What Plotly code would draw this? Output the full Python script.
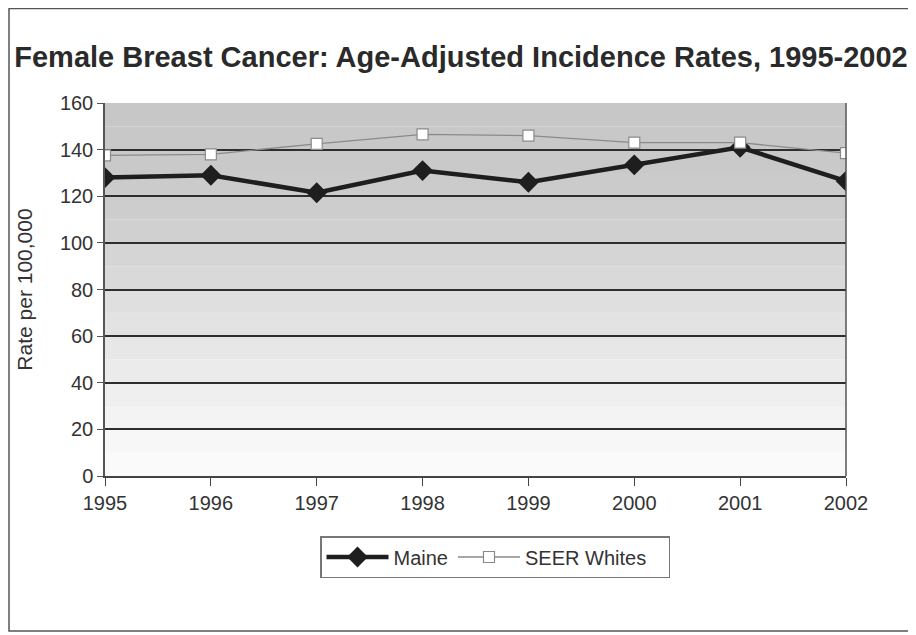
import plotly.graph_objects as go

years = [1995, 1996, 1997, 1998, 1999, 2000, 2001, 2002]
maine = [128, 129, 121.5, 131, 126, 133.5, 141, 126.5]
seer_whites = [137.5, 138, 142.5, 146.5, 146, 143, 143, 138.5]
y_ticks = [0, 20, 40, 60, 80, 100, 120, 140, 160]

OFF = 8  # page body margin
W, H = 916 - OFF, 635 - OFF
L, R, T, B = 105 - OFF, 846 - OFF, 103 - OFF, 476 - OFF
pw, ph = R - L, B - T

fig = go.Figure()
fig.add_trace(go.Scatter(
    x=years, y=maine, name="Maine", mode="lines+markers",
    line=dict(color="#1e1e1e", width=4.5),
    marker=dict(symbol="diamond", size=16, color="#1e1e1e"),
))
fig.add_trace(go.Scatter(
    x=years, y=seer_whites, name="SEER Whites\u00a0\u00a0\u00a0", mode="lines+markers",
    line=dict(color="#8a8a8a", width=1.3),
    marker=dict(symbol="square", size=11, color="white", line=dict(color="#8a8a8a", width=1.2)),
))

# background gradient bands (style only)
band_cols = ["#fafafa", "#f7f7f7", "#f3f3f3", "#efefef", "#ebebeb", "#e7e7e7", "#e3e3e3", "#dfdfdf",
             "#d9d9d9", "#d5d5d5", "#d0d0d0", "#cdcdcd", "#cbcbcb", "#c9c9c9", "#c8c8c8", "#c7c7c7"]
n = len(band_cols)
shapes = []
for i, c in enumerate(band_cols):
    shapes.append(dict(type="rect", xref="x domain", yref="y domain", x0=0, x1=1,
                       y0=i / n, y1=(i + 1) / n,
                       fillcolor=c, line=dict(width=0), layer="below"))
# plot right border
shapes.append(dict(type="line", xref="x domain", yref="y domain", x0=1, x1=1, y0=0, y1=1,
                   line=dict(color="#555555", width=1.5)))
# outer frame
shapes.append(dict(type="rect", xref="paper", yref="paper",
                   x0=(1 - L) / pw, x1=(930 - L) / pw,
                   y0=(B - (631 - OFF)) / ph, y1=(B - 0.5) / ph,
                   line=dict(color="#555555", width=1.5), fillcolor="rgba(0,0,0,0)", layer="below"))

fig.update_layout(
    width=W, height=H,
    margin=dict(l=L, r=W - R, t=T, b=H - B),
    paper_bgcolor="white", plot_bgcolor="white",
    font=dict(family="Liberation Sans, Arial, sans-serif", color="#333333", size=19),
    title=dict(text="<b>Female Breast Cancer: Age-Adjusted Incidence Rates, 1995-2002</b>",
               x=(461 - OFF - L) / pw, xref="paper", xanchor="center",
               y=1 - (57 - OFF) / H, yanchor="middle",
               font=dict(size=29, color="#2a2a2a")),
    xaxis=dict(range=[1995, 2002], tickvals=years, ticktext=[str(y) for y in years],
               showgrid=False, zeroline=False, showline=True, linecolor="#444444", linewidth=1.5,
               ticks="outside", ticklen=8, tickcolor="#444444", tickfont=dict(size=20)),
    yaxis=dict(range=[0, 160], tickvals=y_ticks, showgrid=True, gridcolor="#2e2e2e", gridwidth=1.6,
               zeroline=False, showline=True, linecolor="#555555", linewidth=1.5,
               ticks="outside", ticklen=6, tickcolor="#555555", tickfont=dict(size=20),
               title=dict(text="Rate per 100,000", font=dict(size=21), standoff=22)),
    legend=dict(orientation="h", x=(495 - OFF - L) / pw, xanchor="center",
                y=(B - (536 - OFF)) / ph, yanchor="top", itemwidth=62,
                bordercolor="#777777", borderwidth=1.5, bgcolor="white",
                font=dict(size=20)),
    shapes=shapes,
    showlegend=True,
)
fig.write_html("out.html")
